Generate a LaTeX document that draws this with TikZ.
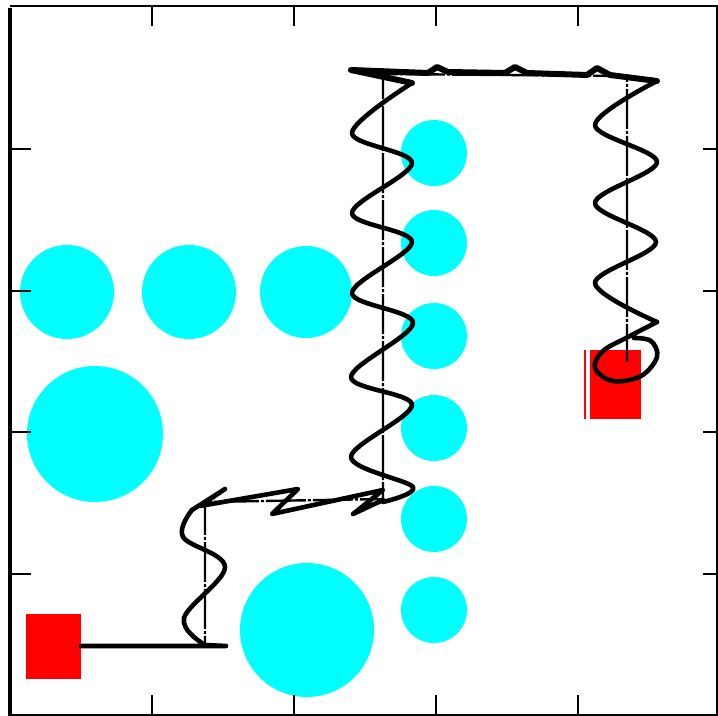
\documentclass[tikz,border=0pt]{standalone}
\begin{document}
\begin{tikzpicture}[x=0.5pt,y=-0.5pt,
  obst/.style={fill={rgb,255:red,0;green,255;blue,255}, draw=none},
  goal/.style={fill={rgb,255:red,255;green,0;blue,0}, draw=none},
  refpath/.style={draw=black, line width=1.2pt, dash pattern=on 20pt off 1pt on 1.5pt off 1pt},
  robot/.style={draw=black, line width=2.3pt, line join=round, line cap=round},
  axis/.style={draw=black, line width=0.8pt},
  tick/.style={draw=black, line width=0.7pt}]
\useasboundingbox (0,0) rectangle (718,716);
\fill[white] (0,0) rectangle (718,716);
% obstacles
\foreach \cx/\cy/\r in {67/292/47, 189/292/47, 306/292/46, 95/434/68, 307/630/67,
  434/153/33, 434/243/33, 434/336/33, 434/428/33, 434/519/33, 434/610/33}
  \path[obst] (\cx,\cy) circle (\r);
% start and goal
\path[goal] (26,614) rectangle (81,679);
\path[goal] (590,350) rectangle (641,419);
\draw[red, line width=0.8pt] (585,350) -- (585,419);
% reference path
\coordinate (s) at (81,646);
\coordinate (c1) at (205,646);
\coordinate (c2) at (205,502);
\coordinate (c3) at (383,499);
\coordinate (c4) at (383,74);
\coordinate (c5) at (627,76);
\coordinate (e) at (627,362);
\draw[refpath] (s) -- (c1) -- (c2) -- (c3) -- (c4) -- (c5) -- (e);
% robot trajectory
\draw[robot] (s) -- (226,646) -- (205,645);
\draw[robot] plot[smooth, tension=0.6] coordinates {(205,645) (184,618) (225,567) (183,537) (192,510)};
\draw[robot] (192,510) -- (225,489) -- (200,506) -- (298,489) -- (272,514) -- (383,490) -- (353,514) -- (383,500);
\draw[robot] plot[smooth, tension=0.55] coordinates {(383,502) (413,487) (351,457) (412,405) (351,377) (413,323) (352,293) (412,242) (352,213) (412,163) (352,133) (412,83)};
\draw[robot, line width=3pt] (412,83) -- (351,70) -- (428,73) -- (437,67) -- (448,72) -- (505,73) -- (515,67) -- (527,73) -- (587,75) -- (597,68) -- (610,75) -- (657,81);
\draw[robot] plot[smooth, tension=0.55] coordinates {(657,81) (595,125) (657,162) (595,203) (656,242) (595,283) (657,322)};
\draw[robot] plot[smooth, tension=0.6] coordinates {(657,322) (628,337) (603,351) (595,368) (613,381) (641,376) (657,357) (651,341) (634,338)};
% axes
\draw[axis] (10,6) -- (718,6);
\draw[axis] (10,715) -- (718,715);
\draw[axis] (717,6) -- (717,715);
\draw[black, line width=1.6pt] (10,8) -- (10,716);
\foreach \t in {152,294,436,578} {
  \draw[tick] (\t,6) -- (\t,26);
  \draw[tick] (\t,715) -- (\t,695);
}
\foreach \t in {149,291,432,574} {
  \draw[tick] (10,\t) -- (31,\t);
  \draw[tick] (717,\t) -- (703,\t);
}
\end{tikzpicture}
\end{document}
